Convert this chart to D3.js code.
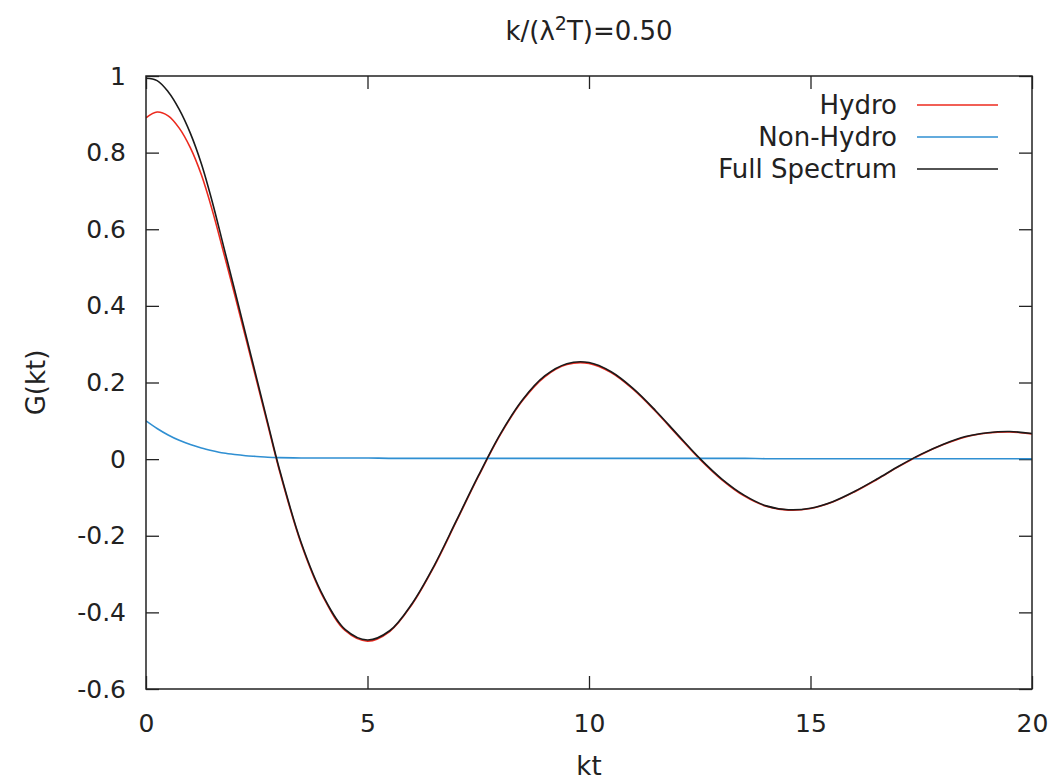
<!DOCTYPE html>
<html>
<head>
<meta charset="utf-8">
<script src="https://cdn.jsdelivr.net/npm/d3@7"></script>
<style>
    body { margin: 0; background: #fff; }
    text { font-family: "DejaVu Sans", sans-serif; fill: #222; }
</style>
</head>
<body>
<div id="chart"></div>
<script>
// values
const kt = [0, 0.25, 0.5, 0.75, 1, 1.25, 1.5, 1.75, 2, 2.25, 2.5, 2.75, 3, 3.5, 4, 4.5, 5, 5.5, 6, 6.5, 7, 7.5,
    8, 8.5, 9, 9.5, 10, 10.5, 11, 11.5, 12, 12.5, 13, 13.5, 14, 14.5, 15, 15.5, 16, 16.5, 17, 17.5,
    18, 18.5, 19, 19.5, 20];
const hydro = [0.891, 0.906, 0.896, 0.864, 0.813, 0.742, 0.648, 0.540, 0.430, 0.317, 0.203, 0.089, -0.025, -0.220,
    -0.360, -0.448, -0.475, -0.450, -0.380, -0.281, -0.164, -0.046, 0.064, 0.153, 0.215, 0.247, 0.250, 0.226,
    0.182, 0.125, 0.062, 0.000, -0.054, -0.096, -0.123, -0.133, -0.129, -0.112, -0.085, -0.053, -0.019, 0.012,
    0.038, 0.058, 0.068, 0.071, 0.066];
const nonHydro = [0.100, 0.080, 0.063, 0.049, 0.038, 0.029, 0.022, 0.016, 0.012, 0.009, 0.007, 0.005, 0.004, 0.003,
    0.003, 0.003, 0.003, 0.002, 0.002, 0.002, 0.002, 0.002, 0.002, 0.002, 0.002, 0.002, 0.002, 0.002,
    0.002, 0.002, 0.002, 0.002, 0.002, 0.002, 0.001, 0.001, 0.001, 0.001, 0.001, 0.001, 0.001, 0.001,
    0.001, 0.001, 0.001, 0.001, 0.001];
const full = [0.994, 0.988, 0.959, 0.913, 0.851, 0.771, 0.670, 0.556, 0.442, 0.326, 0.210, 0.094, -0.021, -0.217,
    -0.357, -0.445, -0.472, -0.448, -0.378, -0.279, -0.162, -0.044, 0.066, 0.155, 0.217, 0.249, 0.252, 0.228,
    0.184, 0.127, 0.064, 0.002, -0.052, -0.094, -0.122, -0.132, -0.128, -0.111, -0.084, -0.052, -0.018, 0.013,
    0.039, 0.059, 0.069, 0.072, 0.067];

const xTicks = [0, 5, 10, 15, 20];
const yTicks = [-0.6, -0.4, -0.2, 0, 0.2, 0.4, 0.6, 0.8, 1];

const series = [
    { name: "Hydro", values: hydro, color: "#ec2a1e" },
    { name: "Non-Hydro", values: nonHydro, color: "#2f8fd2" },
    { name: "Full Spectrum", values: full, color: "#1a1a1a" }
];

const width = 1055, height = 782;
const margin = { left: 146, right: 23, top: 76, bottom: 93 };
const w = width - margin.left - margin.right;
const h = height - margin.top - margin.bottom;
const tickLen = 13;

const svg = d3.select("#chart").append("svg")
    .attr("width", width)
    .attr("height", height);

const plot = svg.append("g")
    .attr("transform", `translate(${margin.left},${margin.top})`);

const x = d3.scaleLinear().domain([0, 20]).range([0, w]);
const y = d3.scaleLinear().domain([-0.6, 1]).range([h, 0]);

const fmt = d => String(+d.toFixed(1));

// bottom and left axes with inward ticks
plot.append("g")
    .attr("transform", `translate(0,${h})`)
    .call(d3.axisBottom(x).tickValues(xTicks).tickFormat(fmt).tickSizeInner(-tickLen).tickSizeOuter(0).tickPadding(25));
plot.append("g")
    .call(d3.axisLeft(y).tickValues(yTicks).tickFormat(fmt).tickSizeInner(-tickLen).tickSizeOuter(0).tickPadding(20));

// mirrored ticks on top and right
plot.append("g")
    .call(d3.axisTop(x).tickValues(xTicks).tickFormat("").tickSizeInner(-tickLen).tickSizeOuter(0));
plot.append("g")
    .attr("transform", `translate(${w},0)`)
    .call(d3.axisRight(y).tickValues(yTicks).tickFormat("").tickSizeInner(-tickLen).tickSizeOuter(0));

plot.selectAll(".domain").remove();
plot.selectAll(".tick line").attr("stroke", "#222").attr("stroke-width", 1.3);
plot.selectAll(".tick text").style("font-size", "25px").attr("fill", "#222");

// curves
const line = d3.line()
    .x((d, i) => x(kt[i]))
    .y(d => y(d))
    .curve(d3.curveCatmullRom.alpha(0.5));

plot.append("defs").append("clipPath").attr("id", "clip")
    .append("rect").attr("width", w).attr("height", h);

plot.append("g").attr("clip-path", "url(#clip)")
    .selectAll("path")
    .data(series)
    .join("path")
    .attr("d", d => line(d.values))
    .attr("fill", "none")
    .attr("stroke", d => d.color)
    .attr("stroke-width", 1.6);

// frame
plot.append("rect")
    .attr("width", w)
    .attr("height", h)
    .attr("fill", "none")
    .attr("stroke", "#222")
    .attr("stroke-width", 1.5);

// legend
const legend = svg.append("g");
series.forEach((s, i) => {
    const ly = 105 + i * 32;
    legend.append("text")
        .attr("x", 897)
        .attr("y", ly)
        .attr("dy", "0.35em")
        .attr("text-anchor", "end")
        .style("font-size", "26px")
        .text(s.name);
    legend.append("line")
        .attr("x1", 917).attr("x2", 998)
        .attr("y1", ly).attr("y2", ly)
        .attr("stroke", s.color)
        .attr("stroke-width", 1.6);
});

// title
const title = svg.append("text")
    .attr("x", 589)
    .attr("y", 40)
    .attr("text-anchor", "middle")
    .style("font-size", "26px");
title.append("tspan").text("k/(λ");
title.append("tspan").attr("dy", -10).style("font-size", "19px").text("2");
title.append("tspan").attr("dy", 10).text("T)=0.50");

// axis labels
svg.append("text")
    .attr("x", margin.left + w / 2)
    .attr("y", 775)
    .attr("text-anchor", "middle")
    .style("font-size", "26px")
    .text("kt");

svg.append("text")
    .attr("transform", `translate(45,${margin.top + h / 2}) rotate(-90)`)
    .attr("text-anchor", "middle")
    .style("font-size", "26px")
    .text("G(kt)");
</script>
</body>
</html>
